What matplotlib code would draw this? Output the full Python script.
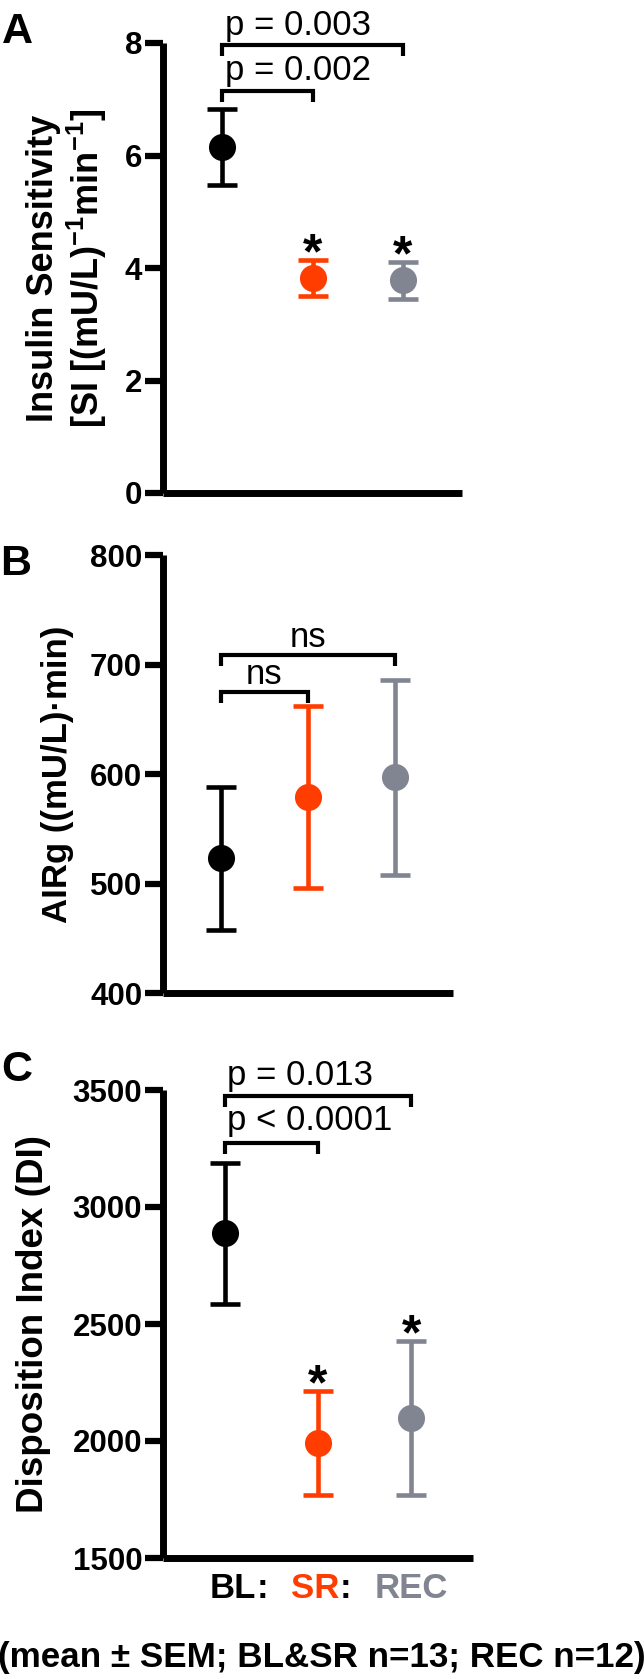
import matplotlib
matplotlib.use('Agg')
import matplotlib.pyplot as plt

plt.rcParams['font.family'] = ['Liberation Sans', 'DejaVu Sans']
plt.rcParams['mathtext.default'] = 'regular'

# ---------------- data ----------------
groups = ['BL', 'SR', 'REC']
colors = ['#000000', '#FF3D00', '#808591']

si_mean = [6.15, 3.83, 3.78]
si_sem = [0.68, 0.32, 0.33]

airg_mean = [523, 579, 597]
airg_sem = [65.5, 83, 89]

di_mean = [2888, 1992, 2099]
di_sem = [302, 223, 330]

si_ticks = [0, 2, 4, 6, 8]
airg_ticks = [400, 500, 600, 700, 800]
di_ticks = [1500, 2000, 2500, 3000, 3500]

si_pvals = ['p = 0.003', 'p = 0.002']
airg_pvals = ['ns', 'ns']
di_pvals = ['p = 0.013', 'p < 0.0001']

footnote = '(mean \u00b1 SEM; BL&SR n=13; REC n=12)'

# ---------------- layout ----------------
W, H = 644, 1679
fig = plt.figure(figsize=(W / 100, H / 100), dpi=100)


def px_ax(left, top, right, bottom):
    return fig.add_axes([left / W, 1 - bottom / H, (right - left) / W, (bottom - top) / H])


axA = px_ax(163, 43, 462, 493)
axB = px_ax(163, 555, 453, 993)
axC = px_ax(163, 1090, 473, 1558)


def style(ax, ticks):
    ax.set_xlim(-0.66, 2.66)
    ax.set_ylim(ticks[0], ticks[-1])
    ax.set_yticks(ticks, labels=[str(t) for t in ticks], fontsize=22.5, fontweight='bold')
    ax.set_xticks([])
    for s in ['top', 'right']:
        ax.spines[s].set_visible(False)
    for s in ['left', 'bottom']:
        ax.spines[s].set_linewidth(5)
        ax.spines[s].set_capstyle('butt')
    ax.tick_params(axis='y', direction='out', length=13, width=4.5, pad=2)


def points(ax, means, sems):
    for i, (m, s, c) in enumerate(zip(means, sems, colors)):
        ax.errorbar(i, m, yerr=s, fmt='none', ecolor=c,
                    elinewidth=3.3, capsize=11, capthick=3.3, clip_on=False, zorder=3)
        ax.plot(i, m, 'o', color=c, ms=19.5, mew=0, clip_on=False, zorder=4)


def bracket(ax, x0, x1, y, text, tx, ty, ha, drop_px=11):
    y0, y1 = ax.get_ylim()
    hpx = ax.get_position().height * H
    d = drop_px * (y1 - y0) / hpx
    ax.plot([x0, x0, x1, x1], [y - d, y, y, y - d], color='k', lw=3,
            solid_capstyle='butt', solid_joinstyle='miter', clip_on=False)
    ax.text(tx, ty, text, ha=ha, va='baseline', fontsize=25)


def star(ax, i, top):
    ax.annotate('*', xy=(i, top), xytext=(0, -6), textcoords='offset points',
                ha='center', va='baseline', fontsize=36, fontweight='bold')


# Panel A
style(axA, si_ticks)
points(axA, si_mean, si_sem)
bracket(axA, 0, 2, 7.96, si_pvals[0], 0.03, 8.14, 'left')
bracket(axA, 0, 1, 7.15, si_pvals[1], 0.03, 7.34, 'left')
for i in (1, 2):
    star(axA, i, si_mean[i] + si_sem[i])

# Panel B
style(axB, airg_ticks)
points(axB, airg_mean, airg_sem)
bracket(axB, 0, 2, 709, airg_pvals[0], 1.0, 716, 'center')
bracket(axB, 0, 1, 675, airg_pvals[1], 0.5, 682, 'center')

# Panel C
style(axC, di_ticks)
points(axC, di_mean, di_sem)
bracket(axC, 0, 2, 3474, di_pvals[0], 0.03, 3521, 'left')
bracket(axC, 0, 1, 3275, di_pvals[1], 0.03, 3329, 'left')
for i in (1, 2):
    star(axC, i, di_mean[i] + di_sem[i])

# group labels under panel C
dxs = [6, -2, 0]
for i, (g, c, dx) in enumerate(zip(groups, colors, dxs)):
    t = axC.annotate(g, xy=(i, 0), xycoords=('data', 'axes fraction'),
                     xytext=(dx, -28.8), textcoords='offset points',
                     ha='center', va='baseline', fontsize=25, fontweight='bold', color=c)
    if i < 2:
        axC.annotate(':', xy=(1, 0), xycoords=t, ha='left', va='bottom',
                     fontsize=25, fontweight='bold', color='k')


# y labels
def ylab(x_px, y_px, s, fs):
    fig.text(x_px / W, 1 - y_px / H, s, rotation=90, rotation_mode='anchor',
             ha='center', va='baseline', fontsize=fs, fontweight='bold')


ylab(53, 268, 'Insulin Sensitivity', 26)
ylab(99, 268, '[SI [(mU/L)$^{-1}$min$^{-1}$]', 26)
ylab(67, 774, 'AIRg ((mU/L)\u00b7min)', 25)
ylab(43, 1324, 'Disposition Index (DI)', 26.5)

# panel letters
fig.text(2 / W, 1 - 43 / H, 'A', fontsize=31, fontweight='bold', va='baseline', ha='left')
fig.text(0 / W, 1 - 575 / H, 'B', fontsize=31, fontweight='bold', va='baseline', ha='left')
fig.text(1 / W, 1 - 1081 / H, 'C', fontsize=31, fontweight='bold', va='baseline', ha='left')

# footnote
fig.text(0.5, 1 - 1667 / H, footnote, ha='center', va='baseline', fontsize=25.2, fontweight='bold')

fig.savefig('out.png', dpi=100)
